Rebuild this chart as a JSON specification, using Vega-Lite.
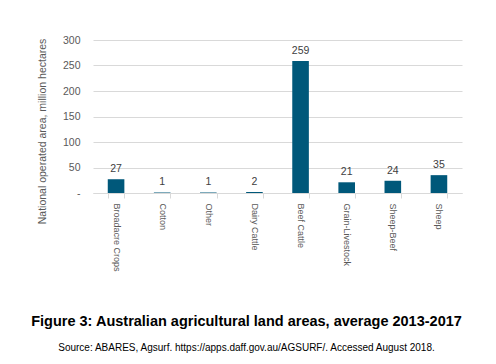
{
  "$schema": "https://vega.github.io/schema/vega-lite/v6.json",
  "width": 369,
  "height": 153,
  "autosize": "none",
  "padding": {"left": 93, "top": 40, "right": 34, "bottom": 171},
  "background": "white",
  "config": {
    "view": {"stroke": null},
    "font": "Liberation Sans"
  },
  "title": {
    "text": "Figure 3: Australian agricultural land areas, average 2013-2017",
    "subtitle": "Source: ABARES, Agsurf. https://apps.daff.gov.au/AGSURF/. Accessed August 2018.",
    "orient": "bottom",
    "anchor": "middle",
    "frame": "group",
    "dx": -31,
    "offset": 44,
    "font": "Liberation Sans",
    "fontSize": 14.5,
    "fontWeight": "bold",
    "color": "black",
    "subtitleFont": "Liberation Sans",
    "subtitleFontSize": 10,
    "subtitleColor": "black",
    "subtitlePadding": 13
  },
  "data": {
    "values": [
      {"category": "Broadacre Crops", "area": 27},
      {"category": "Cotton", "area": 1},
      {"category": "Other", "area": 1},
      {"category": "Dairy Cattle", "area": 2},
      {"category": "Beef Cattle", "area": 259},
      {"category": "Grain-Livestock", "area": 21},
      {"category": "Sheep-Beef", "area": 24},
      {"category": "Sheep", "area": 35}
    ]
  },
  "encoding": {
    "x": {
      "field": "category",
      "type": "nominal",
      "sort": null,
      "scale": {"paddingInner": 0.64, "paddingOuter": 0.32},
      "axis": {
        "title": null,
        "labelAngle": 90,
        "labelAlign": "left",
        "labelBaseline": "middle",
        "labelFontSize": 9,
        "labelColor": "#595959",
        "labelPadding": 5,
        "domainColor": "#d9d9d9",
        "tickColor": "#d9d9d9",
        "tickBand": "extent",
        "tickSize": 5,
        "grid": false
      }
    },
    "y": {
      "field": "area",
      "type": "quantitative",
      "scale": {"domain": [0, 300]},
      "axis": {
        "title": "National operated area, million hectares",
        "titleFontSize": 10.5,
        "titleFontWeight": "normal",
        "titleColor": "#595959",
        "titleX": -51,
        "titleY": 91,
        "titleAngle": -90,
        "titleAlign": "center",
        "titleBaseline": "middle",
        "values": [0, 50, 100, 150, 200, 250, 300],
        "labelExpr": "datum.value == 0 ? '-' : datum.label",
        "labelFontSize": 10.5,
        "labelColor": "#595959",
        "labelPadding": 13,
        "domain": false,
        "ticks": false,
        "gridColor": "#d9d9d9"
      }
    }
  },
  "layer": [
    {"mark": {"type": "bar", "color": "#00587a"}},
    {
      "mark": {"type": "text", "dy": -10, "fontSize": 10.5, "color": "#404040"},
      "encoding": {"text": {"field": "area", "type": "quantitative"}}
    }
  ]
}
